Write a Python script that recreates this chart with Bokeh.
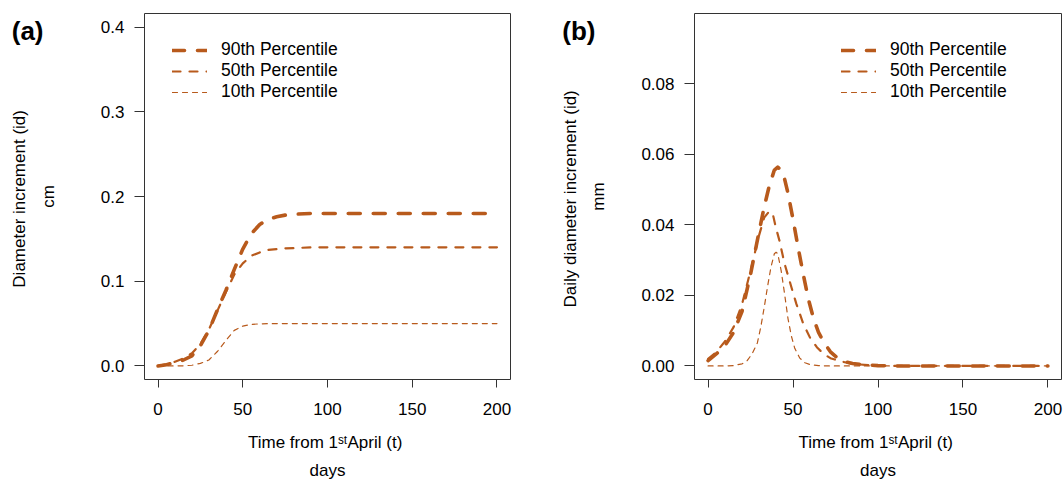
from bokeh.plotting import figure
from bokeh.models import Range1d, FixedTicker, LinearAxis, Legend, LegendItem
from bokeh.layouts import row
from bokeh.embed import file_html
from bokeh.resources import INLINE

# ---------------- data ----------------
SERIES = ["90th Percentile", "50th Percentile", "10th Percentile"]

# Panel (a): cumulative diameter increment (cm)
A_DAYS = [0, 5, 10, 15, 20, 25, 30, 35, 40, 45, 50, 55, 60, 65, 70, 75, 80, 90, 100, 125, 150, 175, 200]
A_P90 = [0.000, 0.0015, 0.004, 0.007, 0.012, 0.024, 0.042, 0.066, 0.089, 0.114, 0.138, 0.156, 0.167,
         0.173, 0.176, 0.178, 0.179, 0.180, 0.180, 0.180, 0.180, 0.180, 0.180]
A_P50 = [0.000, 0.002, 0.005, 0.009, 0.015, 0.026, 0.043, 0.065, 0.087, 0.108, 0.121, 0.130, 0.134,
         0.137, 0.138, 0.1388, 0.139, 0.140, 0.140, 0.140, 0.140, 0.140, 0.140]
A_P10 = [0.000, 0.000, 0.0001, 0.0002, 0.0008, 0.003, 0.007, 0.017, 0.030, 0.042, 0.047, 0.049, 0.0497,
         0.0499, 0.050, 0.050, 0.050, 0.050, 0.050, 0.050, 0.050, 0.050, 0.050]

# Panel (b): daily diameter increment (mm)
B90_DAYS = [0, 5, 10, 15, 20, 25, 30, 33, 36, 39, 41, 43, 45, 47, 50, 53, 56, 59, 62, 65, 68, 72, 76,
            80, 85, 90, 100, 110, 150, 200]
B_P90 = [0.0015, 0.0035, 0.0058, 0.0095, 0.0155, 0.026, 0.038, 0.045, 0.051, 0.0555, 0.0563, 0.0555,
         0.053, 0.049, 0.0415, 0.0335, 0.026, 0.019, 0.0135, 0.0095, 0.0068, 0.004, 0.0023, 0.0013,
         0.0007, 0.0004, 0.0001, 0.0, 0.0, 0.0]
B50_DAYS = [0, 5, 10, 15, 20, 25, 30, 33, 36, 38, 40, 42, 45, 48, 52, 56, 60, 64, 68, 72, 78, 85, 95,
            110, 150, 200]
B_P50 = [0.002, 0.004, 0.007, 0.011, 0.0175, 0.027, 0.037, 0.042, 0.0438, 0.0432, 0.039, 0.0355,
         0.029, 0.024, 0.0175, 0.012, 0.008, 0.0053, 0.0034, 0.0022, 0.0013, 0.0006, 0.0002, 0.0, 0.0, 0.0]
B10_DAYS = [0, 10, 15, 20, 23, 26, 29, 31, 33, 35, 37, 39, 40, 41, 43, 45, 47, 49, 51, 54, 57, 60, 65,
            70, 100, 150, 200]
B_P10 = [0.0, 0.0, 0.0001, 0.0006, 0.0015, 0.0035, 0.0065, 0.011, 0.0165, 0.0225, 0.028, 0.0318,
         0.0322, 0.0318, 0.027, 0.0205, 0.0135, 0.0085, 0.005, 0.0022, 0.0009, 0.0004, 0.0001, 0.0,
         0.0, 0.0, 0.0]

X_TICKS = [0, 50, 100, 150, 200]
A_YTICKS = [0.0, 0.1, 0.2, 0.3, 0.4]
A_YLABELS = ["0.0", "0.1", "0.2", "0.3", "0.4"]
B_YTICKS = [0.0, 0.02, 0.04, 0.06, 0.08]
B_YLABELS = ["0.00", "0.02", "0.04", "0.06", "0.08"]

# ---------------- style ----------------
FONT = "Liberation Sans"
COLOR = "#B85A1C"
STYLES = [dict(line_width=3.6, line_dash="12 13"),
          dict(line_width=2.2, line_dash="8 9"),
          dict(line_width=1.2, line_dash="5 5")]
FRAME_H = 366
TOP = 13
X_LO, X_HI = -8, 208


def make_panel(tag, series, ylo, yhi, yticks, ylabels, ylabel_main, yunit,
               border_left, border_right, frame_w, legend_x, unit_standoff,
               tag_standoff, main_standoff):
    p = figure(frame_width=frame_w, frame_height=FRAME_H,
               min_border_left=border_left, min_border_right=border_right,
               min_border_top=TOP, min_border_bottom=102,
               x_range=Range1d(X_LO, X_HI), y_range=Range1d(ylo, yhi),
               output_backend="svg", toolbar_location=None)
    p.xgrid.visible = False
    p.ygrid.visible = False
    p.outline_line_color = "#333333"
    p.outline_line_width = 1
    p.background_fill_color = "white"
    p.border_fill_color = "white"

    renderers = []
    for (xs, ys), st in zip(series, STYLES):
        r = p.line(xs, ys, line_color=COLOR, line_cap="round", line_join="round", **st)
        renderers.append(r)

    # x axis
    xa = p.xaxis[0]
    xa.ticker = FixedTicker(ticks=X_TICKS)
    xa.axis_line_color = None
    xa.major_tick_line_color = "#333333"
    xa.major_tick_out = 8
    xa.major_tick_in = 0
    xa.minor_tick_line_color = None
    xa.major_label_standoff = 15
    xa.major_label_text_font = FONT
    xa.major_label_text_font_size = "17px"
    xa.major_label_text_color = "black"
    xa.axis_label = "Time from 1\u02e2\u1d57April  (t)"
    xa.axis_label_text_font = FONT
    xa.axis_label_text_font_size = "17px"
    xa.axis_label_text_font_style = "normal"
    xa.axis_label_text_color = "black"
    xa.axis_label_standoff = 15

    xd = LinearAxis(ticker=FixedTicker(ticks=[]), axis_line_color=None,
                    major_tick_line_color=None, minor_tick_line_color=None,
                    major_label_text_font_size="0px", major_label_standoff=0,
                    major_tick_out=0, major_tick_in=0,
                    axis_label="days", axis_label_text_font=FONT,
                    axis_label_text_font_size="17px", axis_label_text_font_style="normal",
                    axis_label_text_color="black", axis_label_standoff=6)
    p.add_layout(xd, "below")

    # y axis
    ya = p.yaxis[0]
    ya.ticker = FixedTicker(ticks=yticks)
    ya.major_label_overrides = {t: l for t, l in zip(yticks, ylabels)}
    ya.axis_line_color = None
    ya.major_tick_line_color = "#333333"
    ya.major_tick_out = 10
    ya.major_tick_in = 0
    ya.minor_tick_line_color = None
    ya.major_label_standoff = 10
    ya.major_label_orientation = "horizontal"
    ya.major_label_text_font = FONT
    ya.major_label_text_font_size = "17px"
    ya.major_label_text_color = "black"
    ya.axis_label = yunit
    ya.axis_label_text_font = FONT
    ya.axis_label_text_font_size = "17px"
    ya.axis_label_text_font_style = "normal"
    ya.axis_label_text_color = "black"
    ya.axis_label_standoff = unit_standoff

    # outer left axis: carries the panel tag (as its only tick label) and the main y label
    tag_y = round(ylo + (FRAME_H + TOP - 30) / FRAME_H * (yhi - ylo), 6)
    yd = LinearAxis(ticker=FixedTicker(ticks=[tag_y]), axis_line_color=None,
                    major_tick_line_color=None, minor_tick_line_color=None,
                    major_label_overrides={tag_y: tag},
                    major_label_text_font=FONT, major_label_text_font_size="26px",
                    major_label_text_font_style="bold", major_label_text_color="black",
                    major_label_orientation="horizontal",
                    major_label_standoff=tag_standoff,
                    major_tick_out=0, major_tick_in=0,
                    axis_label=ylabel_main, axis_label_text_font=FONT,
                    axis_label_text_font_size="17px", axis_label_text_font_style="normal",
                    axis_label_text_color="black", axis_label_standoff=main_standoff)
    p.add_layout(yd, "left")

    legend = Legend(items=[LegendItem(label=s, renderers=[r]) for s, r in zip(SERIES, renderers)],
                    location=(legend_x, 277), orientation="vertical",
                    border_line_color=None, background_fill_alpha=0,
                    padding=0, margin=0, spacing=0,
                    glyph_width=35, glyph_height=20, label_height=20,
                    label_standoff=14, label_text_font=FONT,
                    label_text_font_size="17.5px", label_text_color="black")
    p.add_layout(legend)
    return p


pa = make_panel("(a)", [(A_DAYS, A_P90), (A_DAYS, A_P50), (A_DAYS, A_P10)],
                -0.016, 0.416, A_YTICKS, A_YLABELS,
                "Diameter increment  (id)", "cm", 144, 20, 366, 28, 40, -8, -20)
pb = make_panel("(b)", [(B90_DAYS, B_P90), (B50_DAYS, B_P50), (B10_DAYS, B_P10)],
                -0.00384, 0.09984, B_YTICKS, B_YLABELS,
                "Daily diameter increment  (id)", "mm", 164, 2, 367, 147, 30, -9, -21)

layout = row(pa, pb, spacing=0)
open("out.html", "w").write(file_html(layout, INLINE))
